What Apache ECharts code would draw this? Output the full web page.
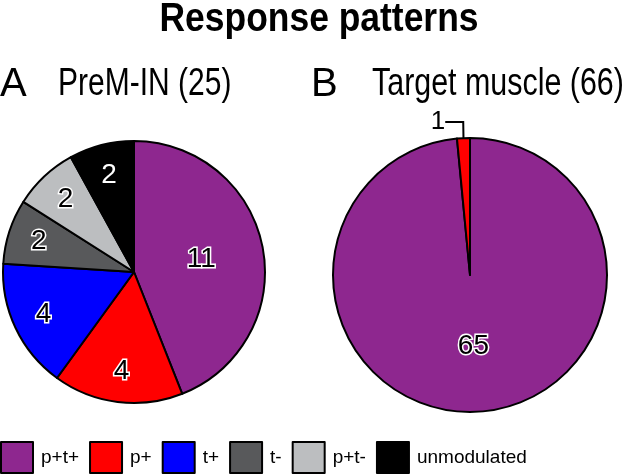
<!DOCTYPE html>
<html>
<head>
<meta charset="utf-8">
<script src="https://cdn.jsdelivr.net/npm/echarts@6/dist/echarts.min.js"></script>
<style>
  html, body { margin: 0; padding: 0; background: #fff; }
  #chart { width: 640px; height: 474px; }
</style>
</head>
<body>
<div id="chart"></div>
<script>
// categories and counts
var categories = ['p+t+', 'p+', 't+', 't-', 'p+t-', 'unmodulated'];
var colors = ['#8e278f', '#ff0000', '#0000ff', '#58595b', '#bcbec0', '#000000'];
var preMCounts = [11, 4, 4, 2, 2, 2];
var muscleCategories = ['p+t+', 'p+'];
var muscleCounts = [65, 1];

var font = '"Liberation Sans", Arial, sans-serif';

var leftCenter = [134, 272];
var rightCenter = [470, 275];

var chart = echarts.init(document.getElementById('chart'));

function pieData(names, values) {
  return names.map(function (n, i) {
    return { name: n, value: values[i], itemStyle: { color: colors[categories.indexOf(n)] } };
  });
}

var insideLabel = {
  show: true,
  position: 'inside',
  formatter: '{c}',
  color: '#000',
  fontFamily: font,
  fontSize: 28,
  textBorderColor: '#fff',
  textBorderWidth: 3
};

// main left pie: only the big slice keeps its label near the middle
var preMData = pieData(categories, preMCounts);
preMData.forEach(function (d, i) { d.label = { show: i === 0 }; });

// transparent ring on top of the left pie, carries the small-slice labels further out
var preMLabelData = preMCounts.map(function (v, i) {
  var d = { name: categories[i], value: v, label: { show: i > 0 } };
  if (i === 5) d.label = { show: true, color: '#fff', textBorderWidth: 0 };
  return d;
});

var muscleData = pieData(muscleCategories, muscleCounts);
muscleData[1].label = {
  show: true,
  position: 'outside',
  formatter: '{c}',
  color: '#000',
  fontFamily: font,
  fontSize: 26,
  textBorderWidth: 0
};
muscleData[1].labelLine = { show: true, length: 14, length2: 18, lineStyle: { color: '#000', width: 2 } };

function headText(txt, x, y, size, sx, weight, align) {
  return {
    type: 'text', x: x, y: y, scaleX: sx, silent: true,
    style: {
      text: txt, fill: '#000', fontFamily: font, fontSize: size,
      fontWeight: weight || 'normal', align: align || 'left', verticalAlign: 'top'
    }
  };
}

var option = {
  animation: false,
  graphic: [
    headText('Response patterns', 319, 0, 40, 0.886, 'bold', 'center'),
    headText('A', 0, 65, 40, 1),
    headText('PreM-IN (25)', 58, 65, 39, 0.77),
    headText('B', 311, 65, 40, 1),
    headText('Target muscle (66)', 372, 65, 39, 0.78)
  ],
  legend: {
    data: categories,
    left: 0,
    bottom: 0,
    padding: 0,
    itemWidth: 32,
    itemHeight: 31,
    itemGap: 10,
    icon: 'rect',
    itemStyle: { borderColor: '#000', borderWidth: 2 },
    textStyle: { fontFamily: font, fontSize: 19, color: '#000', padding: [0, 0, 0, 3] },
    selectedMode: false
  },
  series: [
    {
      type: 'pie',
      center: leftCenter,
      radius: [0, 131],
      startAngle: 90,
      clockwise: true,
      label: insideLabel,
      labelLine: { show: false },
      itemStyle: { borderColor: '#000', borderWidth: 2 },
      emphasis: { disabled: true },
      data: preMData
    },
    {
      type: 'pie',
      center: leftCenter,
      radius: [63, 131],
      startAngle: 90,
      clockwise: true,
      silent: true,
      label: insideLabel,
      labelLine: { show: false },
      itemStyle: { color: 'rgba(0,0,0,0)', borderWidth: 0 },
      emphasis: { disabled: true },
      data: preMLabelData
    },
    {
      type: 'pie',
      center: rightCenter,
      radius: [0, 137],
      startAngle: 90,
      clockwise: true,
      label: insideLabel,
      itemStyle: { borderColor: '#000', borderWidth: 2 },
      emphasis: { disabled: true },
      labelLayout: function (p) {
        if (p.dataIndex === 1) {
          return { x: 438, y: 122, align: 'center', verticalAlign: 'middle' };
        }
      },
      data: muscleData
    }
  ]
};

chart.setOption(option);
</script>
</body>
</html>
